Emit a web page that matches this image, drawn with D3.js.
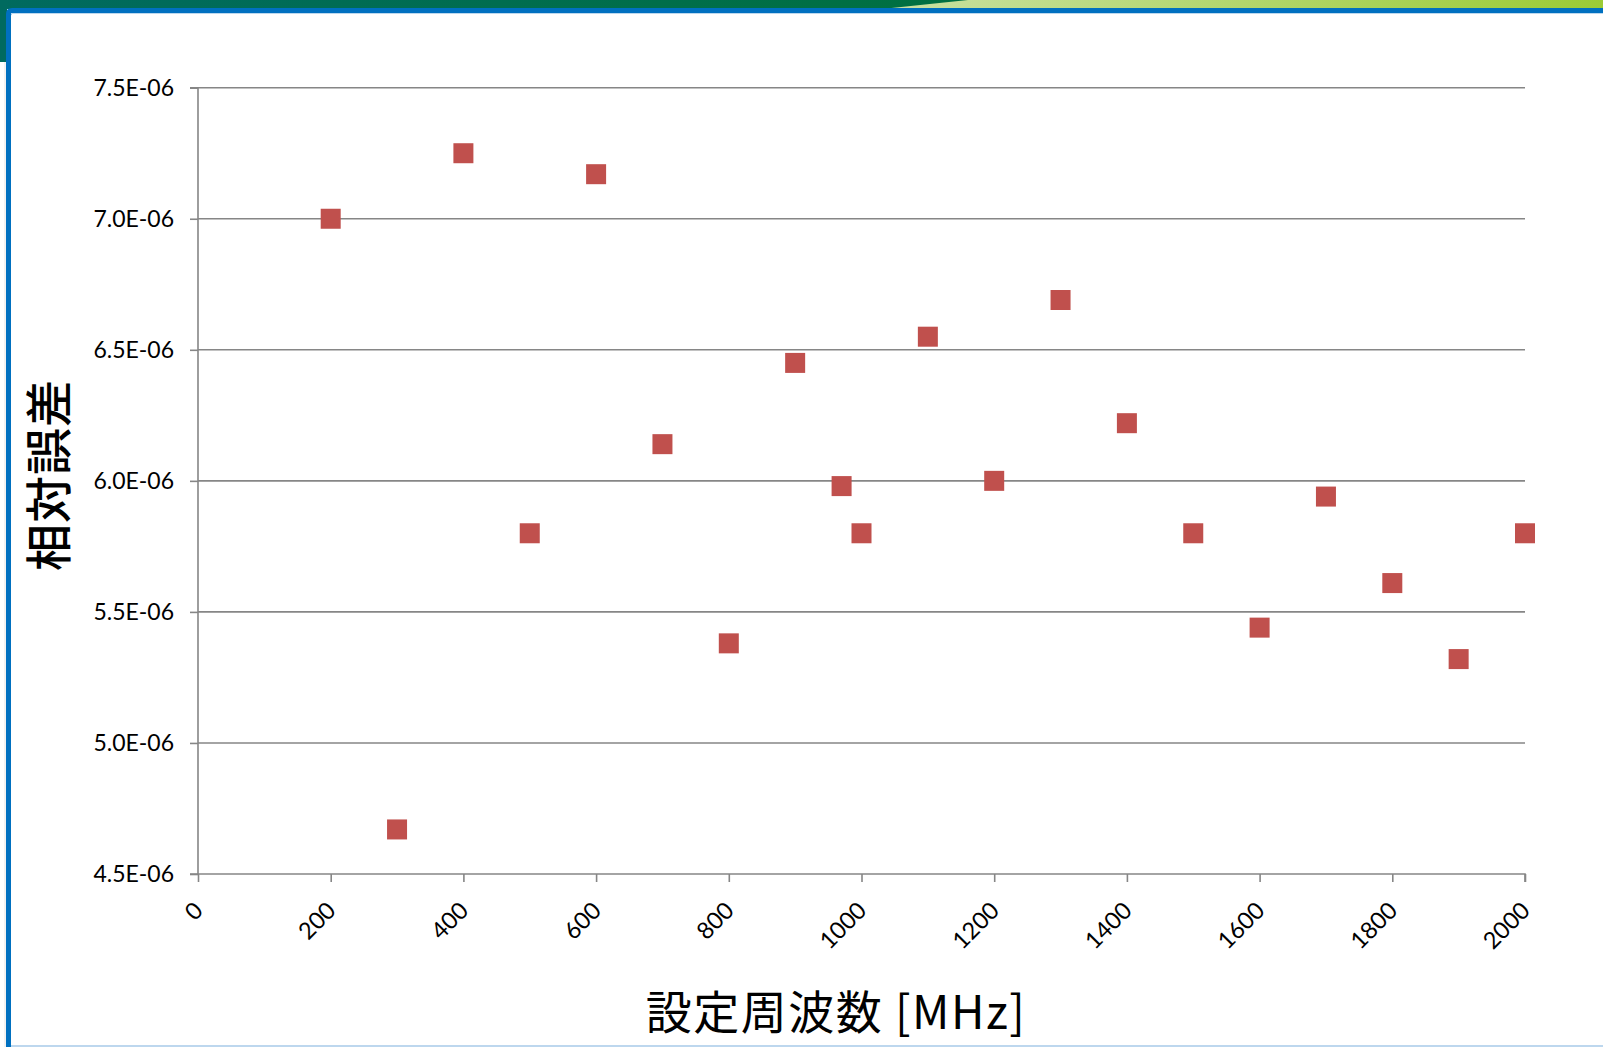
<!DOCTYPE html>
<html>
<head>
<meta charset="utf-8">
<script src="https://cdn.jsdelivr.net/npm/d3@7"></script>
<style>
  html, body { margin: 0; padding: 0; background: #ffffff; }
  svg { display: block; }
  .tick-label { font-family: Lato, "Open Sans", sans-serif; font-size: 23px; fill: #000; }
</style>
</head>
<body>
<svg id="chart" width="1603" height="1047"></svg>
<script>
// Set frequency [MHz]
const frequencies = [200, 300, 400, 500, 600, 700, 800, 900, 970, 1000,
                     1100, 1200, 1300, 1400, 1500, 1600, 1700, 1800, 1900, 2000];
// Relative error at each frequency
const relativeErrors = [7.00e-6, 4.67e-6, 7.25e-6, 5.80e-6, 7.17e-6, 6.14e-6, 5.38e-6, 6.45e-6, 5.98e-6, 5.80e-6,
                        6.55e-6, 6.00e-6, 6.69e-6, 6.22e-6, 5.80e-6, 5.44e-6, 5.94e-6, 5.61e-6, 5.32e-6, 5.80e-6];
// Axis ticks
const xTicks = [0, 200, 400, 600, 800, 1000, 1200, 1400, 1600, 1800, 2000];
const yTicks = [4.5e-6, 5.0e-6, 5.5e-6, 6.0e-6, 6.5e-6, 7.0e-6, 7.5e-6];
const xTitle = "設定周波数 [MHz]";
const yTitle = "相対誤差";

const svg = d3.select("#chart");
const W = 1603, H = 1047;

// ---- slide frame ----
const defs = svg.append("defs");
const darkGrad = defs.append("linearGradient").attr("id", "darkBand");
darkGrad.append("stop").attr("offset", "0%").attr("stop-color", "#006a5f");
darkGrad.append("stop").attr("offset", "100%").attr("stop-color", "#00703f");
const lightGrad = defs.append("linearGradient").attr("id", "lightBand");
lightGrad.append("stop").attr("offset", "0%").attr("stop-color", "#c9e1a3");
lightGrad.append("stop").attr("offset", "100%").attr("stop-color", "#9bcb35");

svg.append("rect").attr("x", 0).attr("y", 0).attr("width", W).attr("height", H).attr("fill", "#ffffff");
svg.append("rect").attr("x", 0).attr("y", 0).attr("width", 1000).attr("height", 9).attr("fill", "url(#darkBand)");
svg.append("path").attr("d", "M968,0 L1603,0 L1603,9 L882,9 Z").attr("fill", "url(#lightBand)");
svg.append("rect").attr("x", 0).attr("y", 0).attr("width", 7).attr("height", 62).attr("fill", "#006a5f");
svg.append("rect").attr("x", 4.5).attr("y", 62).attr("width", 1).attr("height", H - 62).attr("fill", "#e6e6e6");
// blue border (top and left) with a rounded corner
svg.append("path")
  .attr("d", "M6,1047 L6,14 Q6,8 12,8 L1603,8 L1603,13 L14,13 Q11,13 11,16 L11,1047 Z")
  .attr("fill", "#0070c0");
svg.append("rect").attr("x", 11).attr("y", 13).attr("width", W - 11).attr("height", 1).attr("fill", "#bcd8ee");
svg.append("rect").attr("x", 11).attr("y", 1045).attr("width", W - 11).attr("height", 2).attr("fill", "#bdd7ee");

// ---- plot ----
const plot = { left: 198, right: 1525, top: 87.7, bottom: 874 };
const x = d3.scaleLinear().domain([0, 2000]).range([plot.left, plot.right]);
const y = d3.scaleLinear().domain([4.5e-6, 7.5e-6]).range([plot.bottom, plot.top]);

const gridColor = "#868686";

// horizontal gridlines
svg.append("g").selectAll("line").data(yTicks.filter(v => v > 4.5e-6)).join("line")
  .attr("x1", plot.left).attr("x2", plot.right)
  .attr("y1", d => y(d)).attr("y2", d => y(d))
  .attr("stroke", gridColor).attr("stroke-width", 1.6);

// y axis
const yAxis = d3.axisLeft(y).tickValues(yTicks).tickSize(8).tickPadding(16)
  .tickFormat(d => (d * 1e6).toFixed(1) + "E-06");
const gy = svg.append("g").attr("transform", `translate(${plot.left},0)`).call(yAxis);
gy.select(".domain").attr("stroke", gridColor).attr("stroke-width", 1.6).attr("d", `M-8,${plot.top}H0V${plot.bottom}H-8`);
gy.selectAll(".tick line").attr("stroke", gridColor).attr("stroke-width", 1.6);
gy.selectAll(".tick text").attr("class", "tick-label").attr("dy", "0.34em")
  .style("font-family", "Lato, 'Open Sans', sans-serif").style("font-size", "23px").attr("fill", "#000");

// x axis
const xAxis = d3.axisBottom(x).tickValues(xTicks).tickSize(8).tickFormat(d => String(d));
const gx = svg.append("g").attr("transform", `translate(0,${plot.bottom})`).call(xAxis);
gx.select(".domain").attr("stroke", gridColor).attr("stroke-width", 1.6).attr("d", `M${plot.left},0H${plot.right}V8`);
gx.selectAll(".tick line").attr("stroke", gridColor).attr("stroke-width", 1.6);
gx.selectAll(".tick text")
  .attr("class", "tick-label")
  .attr("y", 0).attr("dy", 0)
  .attr("text-anchor", "end")
  .attr("transform", "translate(6,38) rotate(-45)")
  .style("font-family", "Lato, 'Open Sans', sans-serif").style("font-size", "23.5px").attr("fill", "#000");

// markers
const size = 20;
svg.append("g").selectAll("rect").data(frequencies.map((f, i) => [f, relativeErrors[i]])).join("rect")
  .attr("x", d => x(d[0]) - size / 2)
  .attr("y", d => y(d[1]) - size / 2)
  .attr("width", size).attr("height", size)
  .attr("fill", "#c0504d");

// axis titles
svg.append("text")
  .attr("transform", "translate(66,475) rotate(-90)")
  .attr("text-anchor", "middle")
  .style("font-family", "'Noto Sans CJK JP', sans-serif")
  .style("font-size", "47px").style("font-weight", "500")
  .style("letter-spacing", "1px")
  .attr("fill", "#000")
  .text(yTitle);

svg.append("text")
  .attr("x", 836).attr("y", 1029)
  .attr("text-anchor", "middle")
  .style("font-family", "'Noto Sans CJK JP', sans-serif")
  .style("font-size", "46px")
  .style("letter-spacing", "1.5px")
  .attr("fill", "#000")
  .text(xTitle);
</script>
</body>
</html>
